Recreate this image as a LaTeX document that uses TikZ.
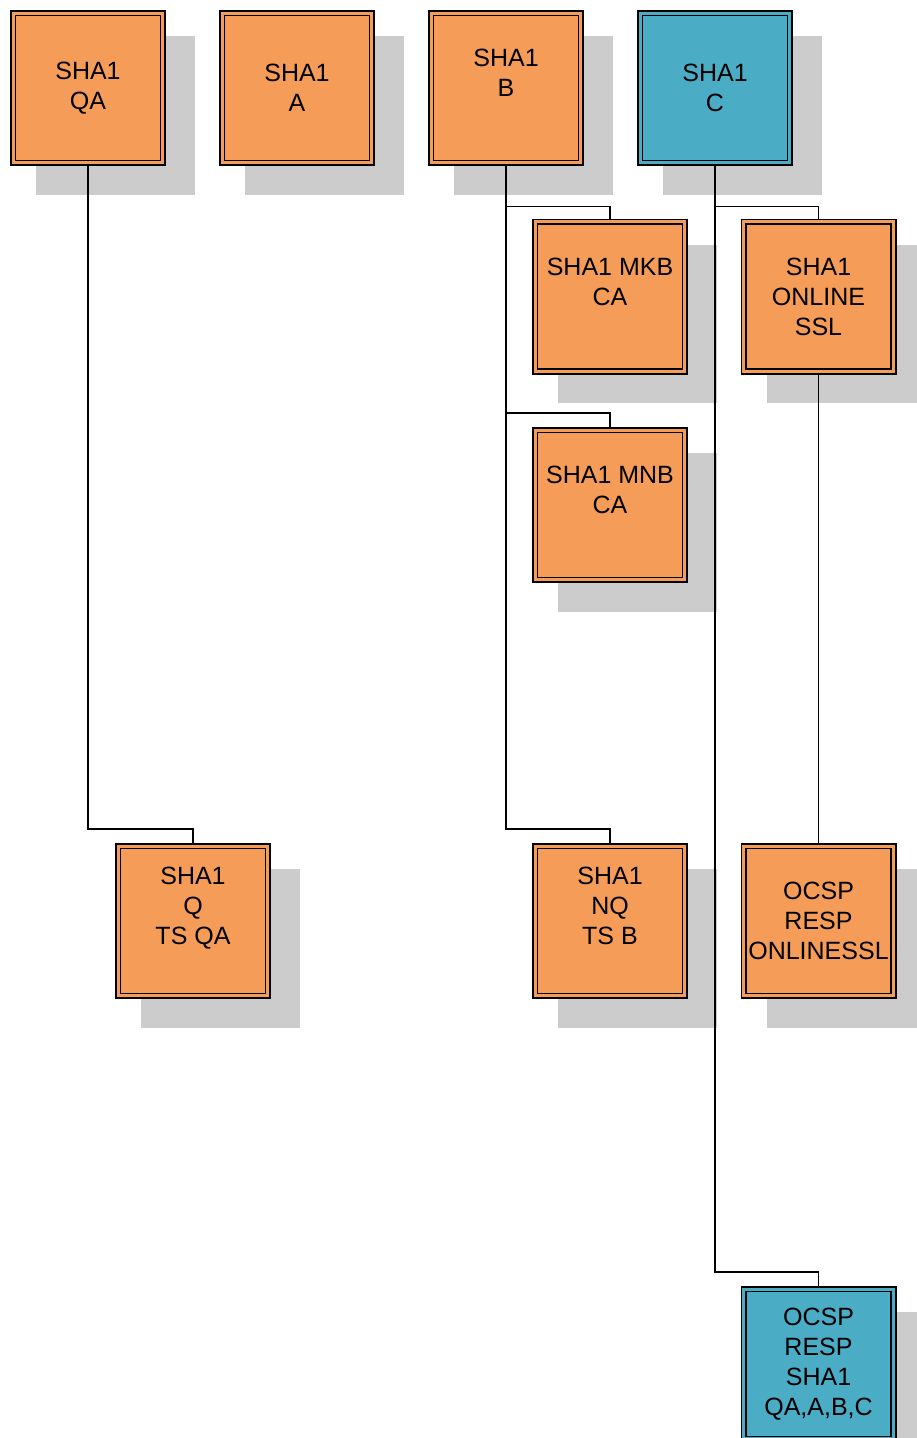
\documentclass[tikz,border=0pt]{standalone}
\usepackage{fontspec}
\setmainfont{Liberation Sans}
\usepackage{tikz}
\usetikzlibrary{
  shadows,
  calc
}
\definecolor{caOrange}{HTML}{F59D58}
\definecolor{caTeal}{HTML}{4BACC6}
\definecolor{caShadow}{HTML}{CCCCCC}
\tikzset{
  canode/.style={
    rectangle, minimum width=149.8pt, minimum height=149.8pt,
    draw=black, line width=1.6pt, double distance=3pt, outer sep=3.1pt,
    font=\fontsize{25}{30}\selectfont, align=center, inner sep=0pt,
    drop shadow={shadow xshift=26pt, shadow yshift=-26pt, shadow scale=1.06,
      fill=caShadow, opacity=1}
  },
  orangebox/.style={canode, fill=caOrange, double=caOrange},
  tealbox/.style={canode, fill=caTeal, double=caTeal},
  link/.style={draw=black, line width=1.7pt}
}
\begin{document}
\begin{tikzpicture}[x=1pt, y=-1pt]
  \useasboundingbox (0,0) rectangle (917,1438);
  \node[orangebox] (qa) at (88,88) {SHA1\\QA};
  \node[orangebox] (a) at (297,88) {SHA1\\A};
  \node[orangebox] (b) at (506,88) {SHA1\\B\\\mbox{}};
  \node[tealbox] (c) at (715,88) {SHA1\\C};
  \node[orangebox] (mkb) at (610,296.5) {SHA1 MKB\\CA\\\mbox{}};
  \node[orangebox] (online) at (818.5,296.5) {SHA1\\ONLINE\\SSL};
  \node[orangebox] (mnb) at (610,505) {SHA1 MNB\\CA\\\mbox{}};
  \node[orangebox] (tsqa) at (193,921) {SHA1\\Q\\TS QA\\\mbox{}};
  \node[orangebox] (tsb) at (610,921) {SHA1\\NQ\\TS B\\\mbox{}};
  \node[orangebox] (ocspssl) at (818.5,921) {OCSP\\RESP\\ONLINESSL};
  \node[tealbox] (ocspall) at (818.5,1364) {OCSP\\RESP\\SHA1\\QA,A,B,C};

  \draw[link] (qa.south) |- ([yshift=14pt]tsqa.north) -- (tsqa.north);
  \draw[link] (b.south) |- ([yshift=12pt]mkb.north) -- (mkb.north);
  \draw[link] (b.south) |- ([yshift=14pt]mnb.north) -- (mnb.north);
  \draw[link] (b.south) |- ([yshift=14pt]tsb.north) -- (tsb.north);
  \draw[link] (c.south) |- ([yshift=12pt]online.north) -- (online.north);
  \draw[link] (c.south) |- ([yshift=14pt]ocspall.north) -- (ocspall.north);
  \draw[link] (online.south) -- (ocspssl.north);
\end{tikzpicture}
\end{document}
